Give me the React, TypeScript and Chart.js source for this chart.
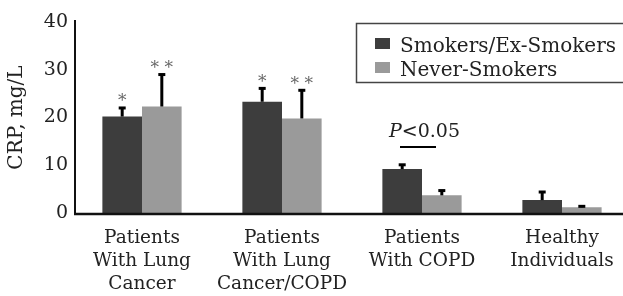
import React, { useEffect, useRef } from "react";
import { Chart, registerables } from "chart.js";

Chart.register(...registerables);

const categories: string[][] = [
  ["Patients", "With Lung", "Cancer"],
  ["Patients", "With Lung", "Cancer/COPD"],
  ["Patients", "With COPD"],
  ["Healthy", "Individuals"],
];
const seriesNames = ["Smokers/Ex-Smokers", "Never-Smokers"];
const smokers = [20.2, 23.3, 9.2, 2.7];
const smokersSD = [1.9, 2.9, 1.0, 1.8];
const neverSmokers = [22.3, 19.8, 3.7, 1.2];
const neverSD = [6.8, 6.0, 1.1, 0.3];
const smokersMarks = ["*", "*", "", ""];
const neverMarks = ["* *", "* *", "", ""];
const yTicks = [0, 10, 20, 30, 40];
const yTitle = "CRP, mg/L";
const pText = ["P", "<0.05"];
const pCategory = 2;

const DARK = "#3d3d3d";
const LIGHT = "#9a9a9a";
const INK = "#222222";
const FONT = "'DejaVu Serif'";

const overlay = {
  id: "overlay",
  afterDatasetsDraw(chart: any) {
    const ctx = chart.ctx as CanvasRenderingContext2D;
    const y = chart.scales.y;
    const x = chart.scales.x;
    const area = chart.chartArea;
    ctx.save();

    // axes
    ctx.strokeStyle = "#111";
    ctx.lineWidth = 2;
    ctx.beginPath();
    ctx.moveTo(75, y.getPixelForValue(40) - 2);
    ctx.lineTo(75, area.bottom + 2);
    ctx.stroke();
    ctx.lineWidth = 2.5;
    ctx.beginPath();
    ctx.moveTo(74, area.bottom + 1);
    ctx.lineTo(chart.width, area.bottom + 1);
    ctx.stroke();

    // error bars + significance marks
    const values = [smokers, neverSmokers];
    const sds = [smokersSD, neverSD];
    const marks = [smokersMarks, neverMarks];
    for (let d = 0; d < 2; d++) {
      const meta = chart.getDatasetMeta(d);
      meta.data.forEach((bar: any, j: number) => {
        const top = y.getPixelForValue(values[d][j] + sds[d][j]);
        const base = y.getPixelForValue(values[d][j]);
        ctx.strokeStyle = "#000";
        ctx.lineWidth = 3;
        ctx.beginPath();
        ctx.moveTo(bar.x, base);
        ctx.lineTo(bar.x, top);
        ctx.stroke();
        ctx.fillStyle = "#000";
        ctx.fillRect(bar.x - 3.5, top - 1, 7, 3);
        if (marks[d][j]) {
          ctx.fillStyle = "#666";
          ctx.font = `17px ${FONT}`;
          ctx.textAlign = "center";
          ctx.textBaseline = "alphabetic";
          ctx.fillText(marks[d][j], bar.x, top - 1);
        }
      });
    }

    // P annotation
    const cx = x.getPixelForValue(pCategory);
    const ty = y.getPixelForValue(15.9);
    ctx.fillStyle = INK;
    ctx.textBaseline = "alphabetic";
    ctx.textAlign = "left";
    ctx.font = `italic 19px ${FONT}`;
    const pw = ctx.measureText(pText[0]).width;
    ctx.fillText(pText[0], cx - 33, ty);
    ctx.font = `19px ${FONT}`;
    ctx.fillText(pText[1], cx - 33 + pw, ty);
    ctx.strokeStyle = "#000";
    ctx.lineWidth = 2;
    const ly = y.getPixelForValue(13.8);
    ctx.beginPath();
    ctx.moveTo(cx - 22, ly);
    ctx.lineTo(cx + 14, ly);
    ctx.stroke();

    // legend
    ctx.strokeStyle = "#444";
    ctx.lineWidth = 1.5;
    ctx.strokeRect(356.5, 23.5, 300, 59);
    const colors = [DARK, LIGHT];
    ctx.font = `20px ${FONT}`;
    ctx.textAlign = "left";
    for (let i = 0; i < 2; i++) {
      ctx.fillStyle = colors[i];
      ctx.fillRect(375, 38 + i * 24, 15, 11);
      ctx.fillStyle = INK;
      ctx.fillText(seriesNames[i], 400, 52 + i * 24);
    }
    ctx.restore();
  },
};

export default function App() {
  const ref = useRef<HTMLCanvasElement>(null);
  useEffect(() => {
    if (!ref.current) return;
    const chart = new Chart(ref.current, {
      type: "bar",
      data: {
        labels: categories,
        datasets: [
          { label: seriesNames[0], data: smokers, backgroundColor: DARK },
          { label: seriesNames[1], data: neverSmokers, backgroundColor: LIGHT },
        ],
      },
      options: {
        responsive: false,
        maintainAspectRatio: false,
        animation: false,
        devicePixelRatio: 1,
        layout: { padding: { top: 22, right: 0, bottom: 0, left: 0 } },
        datasets: { bar: { categoryPercentage: 0.566, barPercentage: 1 } },
        plugins: { legend: { display: false }, tooltip: { enabled: false } },
        scales: {
          x: {
            type: "category",
            grid: { display: false, drawTicks: false },
            border: { display: false },
            ticks: {
              autoSkip: false,
              maxRotation: 0,
              minRotation: 0,
              padding: 14,
              color: INK,
              font: { family: FONT, size: 18.5, lineHeight: "23px" },
            },
            afterFit: (s: any) => {
              s.height = 83;
            },
          },
          y: {
            min: 0,
            max: 40,
            afterBuildTicks: (s: any) => {
              s.ticks = yTicks.map((v) => ({ value: v }));
            },
            grid: { display: false, drawTicks: false },
            border: { display: false },
            ticks: {
              padding: 4,
              color: INK,
              font: { family: FONT, size: 19 },
            },
            title: {
              display: true,
              text: yTitle,
              color: INK,
              font: { family: FONT, size: 20 },
              padding: { top: 5, bottom: 0 },
            },
            afterFit: (s: any) => {
              s.width = 72;
            },
          },
        },
      },
      plugins: [overlay],
    });
    return () => chart.destroy();
  }, []);
  return (
    <div
      style={{
        position: "absolute",
        left: 0,
        top: 0,
        width: 623,
        height: 296,
        overflow: "hidden",
        background: "#fff",
      }}
    >
      <canvas ref={ref} width={632} height={296} style={{ display: "block" }} />
    </div>
  );
}
